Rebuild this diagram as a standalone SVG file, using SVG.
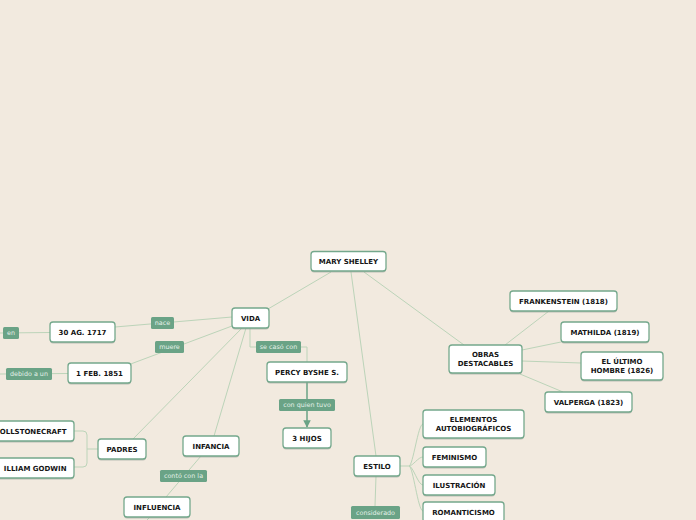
<svg xmlns="http://www.w3.org/2000/svg" width="696" height="520" viewBox="0 0 696 520">
<defs>
<style>
.n rect.b{fill:#ffffff;stroke:#74a88c;stroke-width:1.3}
.n rect.s{fill:#8f9a92;opacity:0.55}
.n text{font-family:"DejaVu Sans",Verdana,sans-serif;font-weight:bold;font-size:7px;fill:#151515;text-anchor:middle}
.l rect{fill:#6aa386}
.l text{font-family:"DejaVu Sans",Verdana,sans-serif;font-size:6.4px;fill:#e4f1e8;text-anchor:middle}
#connectors path{fill:none;stroke:#bcd4b9;stroke-width:1}
#connectors path.arr{stroke:#6aa386;stroke-width:1.5}
</style>
<marker id="ah" viewBox="0 0 10 10" refX="9" refY="5" markerWidth="5" markerHeight="5" orient="auto" markerUnits="strokeWidth">
<path d="M0,0 L10,5 L0,10 Z" fill="#6aa386"/>
</marker>
</defs>
<rect x="0" y="0" width="696" height="520" fill="#f2eadf"/>
<g id="connectors">
<path d="M331,272 L268,309"/>
<path d="M364,272 L464,345"/>
<path d="M351,272 L376,456"/>
<path d="M232,317 L115,327"/>
<path d="M50,332.5 L0,333"/>
<path d="M232,326 L128,365"/>
<path d="M68,373.5 L0,374"/>
<path d="M242,328 L133,439"/>
<path d="M246,328 L214,436"/>
<path d="M250,328 V347 H307 V362"/>
<path d="M201,456 L166,497"/>
<path d="M150,517 L146,521"/>
<path d="M98,449 H87"/>
<path d="M74,431 H83 Q87,431 87,435 V463 Q87,467 83,467 H74"/>
<path d="M505,345 L549,311"/>
<path d="M522,350 L561,342"/>
<path d="M522,361 L581,363"/>
<path d="M520,374 L563,392"/>
<path d="M400,466 H409 C413,466 418,424 423,424"/>
<path d="M409,466 C413,466 418,457 423,457"/>
<path d="M409,466 C413,466 418,485 423,485"/>
<path d="M409,466 C413,466 418,511 423,511"/>
<path d="M376,476 L375,506"/>
<path class="arr" d="M307,382 V427" marker-end="url(#ah)"/>
</g>
<g id="labels">
<g class="l" id="l-en"><rect x="3" y="327" width="16" height="12" rx="1.5"/><text x="11" y="335.3">en</text></g>
<g class="l" id="l-nace"><rect x="151" y="317" width="23" height="12" rx="1.5"/><text x="162.5" y="325.3">nace</text></g>
<g class="l" id="l-muere"><rect x="155" y="341" width="29" height="12" rx="1.5"/><text x="169.5" y="349.3">muere</text></g>
<g class="l" id="l-debido"><rect x="6" y="368" width="46" height="12" rx="1.5"/><text x="29" y="376.3">debido a un</text></g>
<g class="l" id="l-casado"><rect x="256" y="341" width="45" height="12" rx="1.5"/><text x="278.5" y="349.3">se casó con</text></g>
<g class="l" id="l-tuvo"><rect x="279" y="399" width="56" height="12" rx="1.5"/><text x="307" y="407.3">con quien tuvo</text></g>
<g class="l" id="l-conto"><rect x="160" y="470" width="47" height="12" rx="1.5"/><text x="183.5" y="478.3">contó con la</text></g>
<g class="l" id="l-considerado"><rect x="351" y="506" width="49" height="13" rx="1.5"/><text x="375.5" y="515">considerado</text></g>
</g>
<g class="n" id="mary"><rect class="s" x="311" y="253" width="75" height="19.5" rx="3"/><rect class="b" x="311" y="251.5" width="75" height="19.5" rx="3"/><text x="348.5" y="263.8">MARY SHELLEY</text></g>
<g class="n" id="vida"><rect class="s" x="232" y="309.5" width="37" height="20" rx="3"/><rect class="b" x="232" y="308" width="37" height="20" rx="3"/><text x="250.5" y="320.5">VIDA</text></g>
<g class="n" id="ag1717"><rect class="s" x="50" y="323.5" width="65" height="20" rx="3"/><rect class="b" x="50" y="322" width="65" height="20" rx="3"/><text x="82.5" y="334.5">30 AG. 1717</text></g>
<g class="n" id="feb1851"><rect class="s" x="68" y="364.5" width="63" height="20" rx="3"/><rect class="b" x="68" y="363" width="63" height="20" rx="3"/><text x="99.5" y="375.5">1 FEB. 1851</text></g>
<g class="n" id="percy"><rect class="s" x="267" y="363.5" width="80" height="20" rx="3"/><rect class="b" x="267" y="362" width="80" height="20" rx="3"/><text x="307" y="374.5">PERCY BYSHE S.</text></g>
<g class="n" id="hijos"><rect class="s" x="283" y="429.5" width="48" height="20" rx="3"/><rect class="b" x="283" y="428" width="48" height="20" rx="3"/><text x="307" y="440.5">3 HIJOS</text></g>
<g class="n" id="padres"><rect class="s" x="98" y="440.5" width="48" height="20" rx="3"/><rect class="b" x="98" y="439" width="48" height="20" rx="3"/><text x="122" y="451.5">PADRES</text></g>
<g class="n" id="wollstonecraft"><rect class="s" x="-50" y="422.5" width="124" height="20" rx="3"/><rect class="b" x="-50" y="421" width="124" height="20" rx="3"/><text x="66.5" y="433.5" style="text-anchor:end">OLLSTONECRAFT</text></g>
<g class="n" id="godwin"><rect class="s" x="-50" y="459.5" width="124" height="20" rx="3"/><rect class="b" x="-50" y="458" width="124" height="20" rx="3"/><text x="66.5" y="470.5" style="text-anchor:end">ILLIAM GODWIN</text></g>
<g class="n" id="infancia"><rect class="s" x="183" y="437.5" width="56" height="20" rx="3"/><rect class="b" x="183" y="436" width="56" height="20" rx="3"/><text x="211" y="448.5">INFANCIA</text></g>
<g class="n" id="influencia"><rect class="s" x="124" y="498.5" width="66" height="20" rx="3"/><rect class="b" x="124" y="497" width="66" height="20" rx="3"/><text x="157" y="509.5">INFLUENCIA</text></g>
<g class="n" id="obras"><rect class="s" x="449" y="346.5" width="73" height="28" rx="3"/><rect class="b" x="449" y="345" width="73" height="28" rx="3"/><text x="485.5" y="357.2">OBRAS</text><text x="485.5" y="365.8">DESTACABLES</text></g>
<g class="n" id="frankenstein"><rect class="s" x="510" y="292.5" width="107" height="20" rx="3"/><rect class="b" x="510" y="291" width="107" height="20" rx="3"/><text x="563.5" y="303.5">FRANKENSTEIN (1818)</text></g>
<g class="n" id="mathilda"><rect class="s" x="561" y="323.5" width="88" height="20" rx="3"/><rect class="b" x="561" y="322" width="88" height="20" rx="3"/><text x="605" y="334.5">MATHILDA (1819)</text></g>
<g class="n" id="ultimo"><rect class="s" x="581" y="353.5" width="82" height="28" rx="3"/><rect class="b" x="581" y="352" width="82" height="28" rx="3"/><text x="622" y="364.2">EL ÚLTIMO</text><text x="622" y="372.8">HOMBRE (1826)</text></g>
<g class="n" id="valperga"><rect class="s" x="545" y="393.5" width="87" height="20" rx="3"/><rect class="b" x="545" y="392" width="87" height="20" rx="3"/><text x="588.5" y="404.5">VALPERGA (1823)</text></g>
<g class="n" id="estilo"><rect class="s" x="354" y="457.5" width="46" height="20" rx="3"/><rect class="b" x="354" y="456" width="46" height="20" rx="3"/><text x="377" y="468.5">ESTILO</text></g>
<g class="n" id="elementos"><rect class="s" x="423" y="411.5" width="101" height="28" rx="3"/><rect class="b" x="423" y="410" width="101" height="28" rx="3"/><text x="473.5" y="422.2">ELEMENTOS</text><text x="473.5" y="430.8">AUTOBIOGRÁFICOS</text></g>
<g class="n" id="feminismo"><rect class="s" x="423" y="448.5" width="63" height="20" rx="3"/><rect class="b" x="423" y="447" width="63" height="20" rx="3"/><text x="454.5" y="459.5">FEMINISMO</text></g>
<g class="n" id="ilustracion"><rect class="s" x="423" y="476.5" width="72" height="20" rx="3"/><rect class="b" x="423" y="475" width="72" height="20" rx="3"/><text x="459" y="487.5">ILUSTRACIÓN</text></g>
<g class="n" id="romanticismo"><rect class="s" x="423" y="503.5" width="81" height="20" rx="3"/><rect class="b" x="423" y="502" width="81" height="20" rx="3"/><text x="463.5" y="514.5">ROMANTICISMO</text></g>
</svg>
